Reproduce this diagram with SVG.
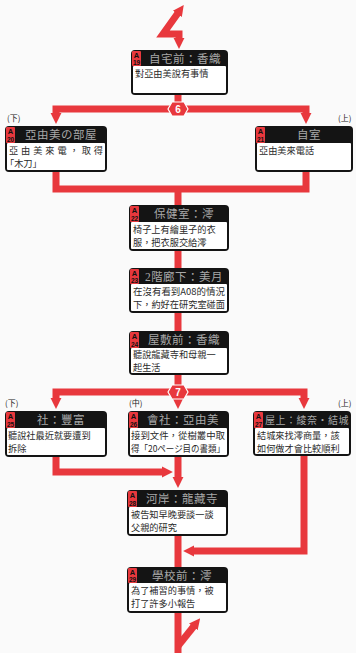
<svg xmlns="http://www.w3.org/2000/svg" width="356" height="653" viewBox="0 0 356 653">
<style>
.bg{fill:#fafafa}
.ln{fill:none;stroke:#e8383d;stroke-width:7;stroke-linejoin:miter}
.box{fill:#141414}
.body{fill:#ffffff}
.lab{fill:#e8383d}
.la{font-family:"Liberation Sans",sans-serif;font-weight:bold;fill:#111;text-anchor:middle}
.ttl{font-family:"Liberation Serif","Noto Sans CJK TC",serif;font-size:11.5px;fill:#a8a8a8;text-anchor:middle;letter-spacing:0.5px}
.tx{font-family:"Noto Sans CJK TC",sans-serif;font-size:9.2px;fill:#2a2a2a}
.pos{font-family:"Noto Sans CJK TC",sans-serif;font-size:8px;fill:#222}
.bd{fill:#e8383d;stroke:#fff;stroke-width:1.2}
.bn{font-family:"Liberation Sans",sans-serif;font-weight:bold;font-size:10px;fill:#fff;text-anchor:middle}
</style>
<defs>
<marker id="ah" viewBox="0 0 10 10" refX="1" refY="5" markerWidth="11" markerHeight="16" markerUnits="userSpaceOnUse" orient="auto-start-reverse">
<path d="M0,0 L10,5 L0,10 z" fill="#e8383d"/>
</marker>
</defs>
<rect class="bg" x="0" y="0" width="356" height="653"/>

<g id="connectors">
<path class="ln" d="M178,13 L163,34 H179 V39" marker-start="url(#ah)" marker-end="url(#ah)"/>
<path class="ln" d="M178,95 V109"/>
<path class="ln" d="M178,109 H56 V114" marker-end="url(#ah)"/>
<path class="ln" d="M178,109 H306 V114" marker-end="url(#ah)"/>
<path class="ln" d="M56,172 V189 H306 V172"/>
<path class="ln" d="M178,189 V205"/>
<path class="ln" d="M178,251 V268"/>
<path class="ln" d="M178,313 V331"/>
<path class="ln" d="M178,375 V392"/>
<path class="ln" d="M178,392 H56 V399" marker-end="url(#ah)"/>
<path class="ln" d="M178,392 H304 V399" marker-end="url(#ah)"/>
<path class="ln" d="M178,392 V399" marker-end="url(#ah)"/>
<path class="ln" d="M56,457 V472 H163" marker-end="url(#ah)"/>
<path class="ln" d="M178,457 V478" marker-end="url(#ah)"/>
<path class="ln" d="M304,456 V551 H193" marker-end="url(#ah)"/>
<path class="ln" d="M178,536 V567"/>
<path class="ln" d="M178,613 V653"/>
<path class="ln" d="M178,646 L194,626" marker-end="url(#ah)"/>
</g>

<g id="badge6">
<polygon class="bd" points="168,109 172,102 184,102 188,109 184,116 172,116"/>
<text class="bn" x="178" y="113">6</text>
</g>
<g id="badge7">
<polygon class="bd" points="168,392 172,385 184,385 188,392 184,399 172,399"/>
<text class="bn" x="178" y="396">7</text>
</g>

<g id="A19">
<rect class="box" x="131" y="50" width="97" height="45" rx="4"/>
<rect class="body" x="133" y="66" width="93" height="27" rx="1"/>
<rect class="lab" x="132" y="51" width="9" height="15" rx="1"/>
<text class="la" x="136.5" y="57.5" font-size="7.5">A</text>
<text class="la" x="136.5" y="65" font-size="6.5">19</text>
<text class="ttl" x="185" y="62.5">自宅前：香織</text>
<text class="tx" x="135" y="77">對亞由美說有事情</text>
</g>

<g id="A20">
<text class="pos" x="7" y="121">(下)</text>
<rect class="box" x="5" y="126" width="102" height="46" rx="4"/>
<rect class="body" x="7" y="143" width="98" height="27" rx="1"/>
<rect class="lab" x="6" y="127" width="9" height="16" rx="1"/>
<text class="la" x="10.5" y="134" font-size="7.5">A</text>
<text class="la" x="10.5" y="142" font-size="6.5">20</text>
<text class="ttl" x="61" y="139">亞由美の部屋</text>
<text class="tx" x="9" y="153.5" textLength="94" lengthAdjust="spacing">亞由美來電，取得</text>
<text class="tx" x="5" y="166.8">「木刀」</text>
</g>

<g id="A21">
<text class="pos" x="338" y="121">(上)</text>
<rect class="box" x="255" y="126" width="98" height="46" rx="4"/>
<rect class="body" x="257" y="143" width="94" height="27" rx="1"/>
<rect class="lab" x="256" y="127" width="9" height="16" rx="1"/>
<text class="la" x="260.5" y="134" font-size="7.5">A</text>
<text class="la" x="260.5" y="142" font-size="6.5">21</text>
<text class="ttl" x="309" y="139">自室</text>
<text class="tx" x="259" y="153.5">亞由美來電話</text>
</g>

<g id="A22">
<rect class="box" x="129" y="205" width="100" height="46" rx="4"/>
<rect class="body" x="131" y="222" width="96" height="27" rx="1"/>
<rect class="lab" x="130" y="206" width="9" height="16" rx="1"/>
<text class="la" x="134.5" y="213" font-size="7.5">A</text>
<text class="la" x="134.5" y="221" font-size="6.5">22</text>
<text class="ttl" x="184" y="218">保健室：澪</text>
<text class="tx" x="133" y="232.8">椅子上有繪里子的衣</text>
<text class="tx" x="133" y="246.1">服，把衣服交給澪</text>
</g>

<g id="A23">
<rect class="box" x="129" y="268" width="100" height="45" rx="4"/>
<rect class="body" x="131" y="284" width="96" height="27" rx="1"/>
<rect class="lab" x="130" y="269" width="9" height="15" rx="1"/>
<text class="la" x="134.5" y="275.5" font-size="7.5">A</text>
<text class="la" x="134.5" y="283" font-size="6.5">23</text>
<text class="ttl" x="184" y="280.5">2階廊下：美月</text>
<text class="tx" x="133" y="294.8" textLength="92" lengthAdjust="spacingAndGlyphs">在沒有看到A08的情況</text>
<text class="tx" x="133" y="308.1" textLength="92" lengthAdjust="spacingAndGlyphs">下，約好在研究室碰面</text>
</g>

<g id="A24">
<rect class="box" x="129" y="331" width="100" height="44" rx="4"/>
<rect class="body" x="131" y="348" width="96" height="25" rx="1"/>
<rect class="lab" x="130" y="332" width="9" height="16" rx="1"/>
<text class="la" x="134.5" y="339" font-size="7.5">A</text>
<text class="la" x="134.5" y="347" font-size="6.5">24</text>
<text class="ttl" x="184" y="344">屋敷前：香織</text>
<text class="tx" x="133" y="358">聽說龍藏寺和母親一</text>
<text class="tx" x="133" y="371.3">起生活</text>
</g>

<g id="A25">
<text class="pos" x="5" y="406">(下)</text>
<rect class="box" x="5" y="411" width="102" height="46" rx="4"/>
<rect class="body" x="7" y="428" width="98" height="27" rx="1"/>
<rect class="lab" x="6" y="412" width="9" height="16" rx="1"/>
<text class="la" x="10.5" y="419" font-size="7.5">A</text>
<text class="la" x="10.5" y="427" font-size="6.5">25</text>
<text class="ttl" x="61" y="424">社：豐富</text>
<text class="tx" x="8" y="438.8">聽說社最近就要遭到</text>
<text class="tx" x="8" y="452.1">拆除</text>
</g>

<g id="A26">
<text class="pos" x="129" y="406">(中)</text>
<rect class="box" x="128" y="411" width="101" height="46" rx="4"/>
<rect class="body" x="130" y="428" width="97" height="27" rx="1"/>
<rect class="lab" x="129" y="412" width="9" height="16" rx="1"/>
<text class="la" x="133.5" y="419" font-size="7.5">A</text>
<text class="la" x="133.5" y="427" font-size="6.5">26</text>
<text class="ttl" x="183" y="424">會社：亞由美</text>
<text class="tx" x="131" y="438.8" textLength="94" lengthAdjust="spacingAndGlyphs">接到文件，從樹叢中取</text>
<text class="tx" x="131" y="452.1" textLength="94" lengthAdjust="spacingAndGlyphs">得「20ページ目の書類」</text>
</g>

<g id="A27">
<text class="pos" x="338" y="406">(上)</text>
<rect class="box" x="253" y="411" width="98" height="45" rx="4"/>
<rect class="body" x="255" y="428" width="94" height="26" rx="1"/>
<rect class="lab" x="254" y="412" width="9" height="16" rx="1"/>
<text class="la" x="258.5" y="419" font-size="7.5">A</text>
<text class="la" x="258.5" y="427" font-size="6.5">27</text>
<text class="ttl" x="307" y="423.8" font-size="10" style="font-size:10px">屋上：綾奈・結城</text>
<text class="tx" x="257" y="438.8">結城來找澪商量，該</text>
<text class="tx" x="257" y="452.1">如何做才會比較順利</text>
</g>

<g id="A28">
<rect class="box" x="127" y="490" width="101" height="46" rx="4"/>
<rect class="body" x="129" y="507" width="97" height="27" rx="1"/>
<rect class="lab" x="128" y="491" width="9" height="16" rx="1"/>
<text class="la" x="132.5" y="498" font-size="7.5">A</text>
<text class="la" x="132.5" y="506" font-size="6.5">28</text>
<text class="ttl" x="182" y="503">河岸：龍藏寺</text>
<text class="tx" x="131" y="517.8">被告知早晚要談一談</text>
<text class="tx" x="131" y="531.1">父親的研究</text>
</g>

<g id="A29">
<rect class="box" x="127" y="567" width="101" height="46" rx="4"/>
<rect class="body" x="129" y="583" width="97" height="28" rx="1"/>
<rect class="lab" x="128" y="568" width="9" height="15" rx="1"/>
<text class="la" x="132.5" y="574.5" font-size="7.5">A</text>
<text class="la" x="132.5" y="582" font-size="6.5">29</text>
<text class="ttl" x="182" y="579.5">學校前：澪</text>
<text class="tx" x="131" y="594">為了補習的事情，被</text>
<text class="tx" x="131" y="607.3">打了許多小報告</text>
</g>
</svg>
